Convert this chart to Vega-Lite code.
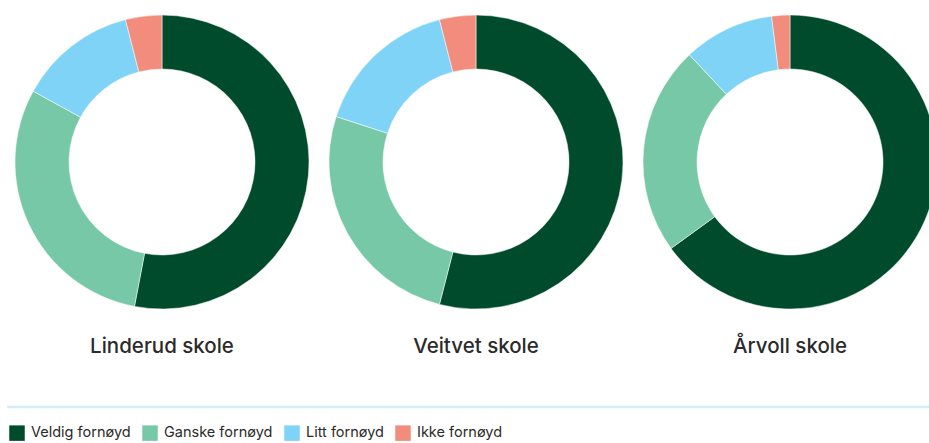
{
  "$schema": "https://vega.github.io/schema/vega-lite/v6.json",
  "padding": {"left": 5, "top": 14, "right": 0, "bottom": 0},
  "background": "white",
  "config": {
    "view": {"stroke": null},
    "font": "Inter",
    "title": {"fontSize": 20.5, "fontWeight": 500, "color": "#2b2b2b", "font": "Inter"}
  },
  "datasets": {
    "d": [
      {"skole": "Linderud skole", "kategori": "Veldig fornøyd", "i": 1, "andel": 53},
      {"skole": "Linderud skole", "kategori": "Ganske fornøyd", "i": 2, "andel": 30},
      {"skole": "Linderud skole", "kategori": "Litt fornøyd", "i": 3, "andel": 13},
      {"skole": "Linderud skole", "kategori": "Ikke fornøyd", "i": 4, "andel": 4},
      {"skole": "Veitvet skole", "kategori": "Veldig fornøyd", "i": 1, "andel": 54},
      {"skole": "Veitvet skole", "kategori": "Ganske fornøyd", "i": 2, "andel": 26},
      {"skole": "Veitvet skole", "kategori": "Litt fornøyd", "i": 3, "andel": 16},
      {"skole": "Veitvet skole", "kategori": "Ikke fornøyd", "i": 4, "andel": 4},
      {"skole": "Årvoll skole", "kategori": "Veldig fornøyd", "i": 1, "andel": 65},
      {"skole": "Årvoll skole", "kategori": "Ganske fornøyd", "i": 2, "andel": 23},
      {"skole": "Årvoll skole", "kategori": "Litt fornøyd", "i": 3, "andel": 10},
      {"skole": "Årvoll skole", "kategori": "Ikke fornøyd", "i": 4, "andel": 2}
    ],
    "linje": [{"nivå": 0}]
  },
  "bounds": "flush",
  "spacing": 392,
  "vconcat": [
    {
      "spacing": 4,
      "hconcat": [
        {
          "width": 310, "height": 296,
          "title": {"text": "Linderud skole", "orient": "bottom", "offset": 27},
          "data": {"name": "d"},
          "transform": [{"filter": "datum.skole === 'Linderud skole'"}],
          "mark": {"type": "arc", "radius": 147, "radius2": 93, "stroke": "white", "strokeWidth": 0.5},
          "encoding": {
            "theta": {"field": "andel", "type": "quantitative", "stack": true},
            "order": {"field": "i", "type": "quantitative"},
            "color": {"field": "kategori", "type": "nominal", "sort": ["Veldig fornøyd", "Ganske fornøyd", "Litt fornøyd", "Ikke fornøyd"],
              "scale": {"domain": ["Veldig fornøyd", "Ganske fornøyd", "Litt fornøyd", "Ikke fornøyd"], "range": ["#004b2c", "#77c8a6", "#7fd3f6", "#f28c7c"]},
              "legend": {"title": null, "orient": "none", "legendX": 2, "legendY": 411, "direction": "horizontal", "columns": 4, "symbolType": "square", "symbolSize": 240, "symbolStrokeWidth": 0, "labelOffset": 6, "columnPadding": 11, "labelFont": "Inter", "labelFontSize": 14.5, "labelColor": "#2b2b2b", "symbolOpacity": 1}}
          }
        },
        {
          "width": 310, "height": 296,
          "title": {"text": "Veitvet skole", "orient": "bottom", "offset": 27},
          "data": {"name": "d"},
          "transform": [{"filter": "datum.skole === 'Veitvet skole'"}],
          "mark": {"type": "arc", "radius": 147, "radius2": 93, "stroke": "white", "strokeWidth": 0.5},
          "encoding": {
            "theta": {"field": "andel", "type": "quantitative", "stack": true},
            "order": {"field": "i", "type": "quantitative"},
            "color": {"field": "kategori", "type": "nominal", "sort": ["Veldig fornøyd", "Ganske fornøyd", "Litt fornøyd", "Ikke fornøyd"]}
          }
        },
        {
          "width": 310, "height": 296,
          "title": {"text": "Årvoll skole", "orient": "bottom", "offset": 27},
          "data": {"name": "d"},
          "transform": [{"filter": "datum.skole === 'Årvoll skole'"}],
          "mark": {"type": "arc", "radius": 147, "radius2": 93, "stroke": "white", "strokeWidth": 0.5},
          "encoding": {
            "theta": {"field": "andel", "type": "quantitative", "stack": true},
            "order": {"field": "i", "type": "quantitative"},
            "color": {"field": "kategori", "type": "nominal", "sort": ["Veldig fornøyd", "Ganske fornøyd", "Litt fornøyd", "Ikke fornøyd"]}
          }
        }
      ]
    },
    {
      "width": 930, "height": 1,
      "data": {"name": "linje"},
      "mark": {"type": "rule", "color": "#d2eef9", "strokeWidth": 2.5},
      "encoding": {
        "y": {"field": "nivå", "type": "quantitative", "scale": {"domain": [0, 1]}, "axis": null}
      }
    }
  ]
}
